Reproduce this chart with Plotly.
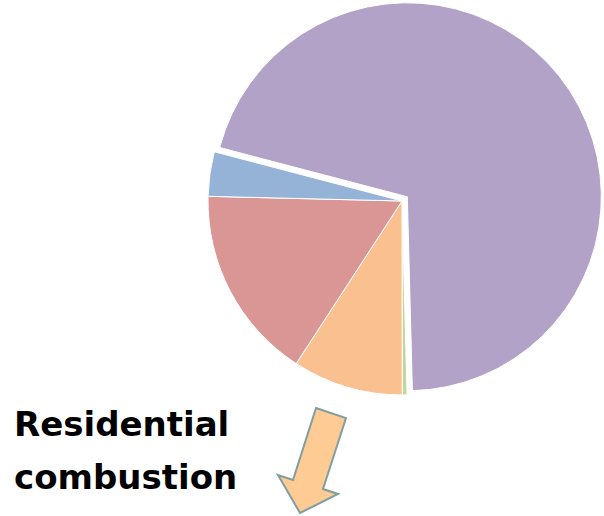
import plotly.graph_objects as go

W, H = 604, 516

# Data (percent shares)
sectors = ["Other sources", "Minor", "Residential combustion", "Sector C", "Sector D"]
shares = [70.5, 0.4, 9.2, 16.2, 3.7]
colors = ["#B3A2C7", "#C3D69B", "#FAC090", "#D99694", "#95B3D7"]
pulls = [0.035, 0, 0, 0, 0]

label_lines = ["Residential", "combustion"]


def px(x, y):
    return x / W, 1 - y / H


cx, cy, r, p = 402, 201, 194, 0.035
half = r * (1 + p)

fig = go.Figure(
    go.Pie(
        labels=sectors,
        values=shares,
        marker=dict(colors=colors, line=dict(color="white", width=1)),
        pull=pulls,
        sort=False,
        direction="clockwise",
        rotation=-75.3,
        textinfo="none",
        hoverinfo="label+percent",
        showlegend=False,
        domain=dict(x=[(cx - half) / W, (cx + half) / W],
                    y=[1 - (cy + half) / H, 1 - (cy - half) / H]),
    )
)

# Arrow shape (pixels -> paper)
arrow_px = [(316, 408), (346, 418), (323, 489), (338, 494), (300, 513), (278, 475), (293, 480)]
path = ""
for i, (x, y) in enumerate(arrow_px):
    xp, yp = px(x, y)
    path += ("M" if i == 0 else "L") + f"{xp:.4f},{yp:.4f} "
path += "Z"

fig.add_shape(type="path", xref="paper", yref="paper", path=path,
              fillcolor="#FFCB94", line=dict(color="#7F9E9E", width=2))

for line, ypix in zip(label_lines, [424, 477]):
    xp, yp = px(12, ypix)
    fig.add_annotation(x=xp, y=yp, xref="paper", yref="paper", text=f"<b>{line}</b>",
                       showarrow=False, xanchor="left", yanchor="middle",
                       font=dict(family="DejaVu Sans", size=34, color="black"))

fig.update_layout(width=W, height=H, margin=dict(l=0, r=0, t=0, b=0),
                  paper_bgcolor="white", plot_bgcolor="white")

fig.write_html("out.html")
